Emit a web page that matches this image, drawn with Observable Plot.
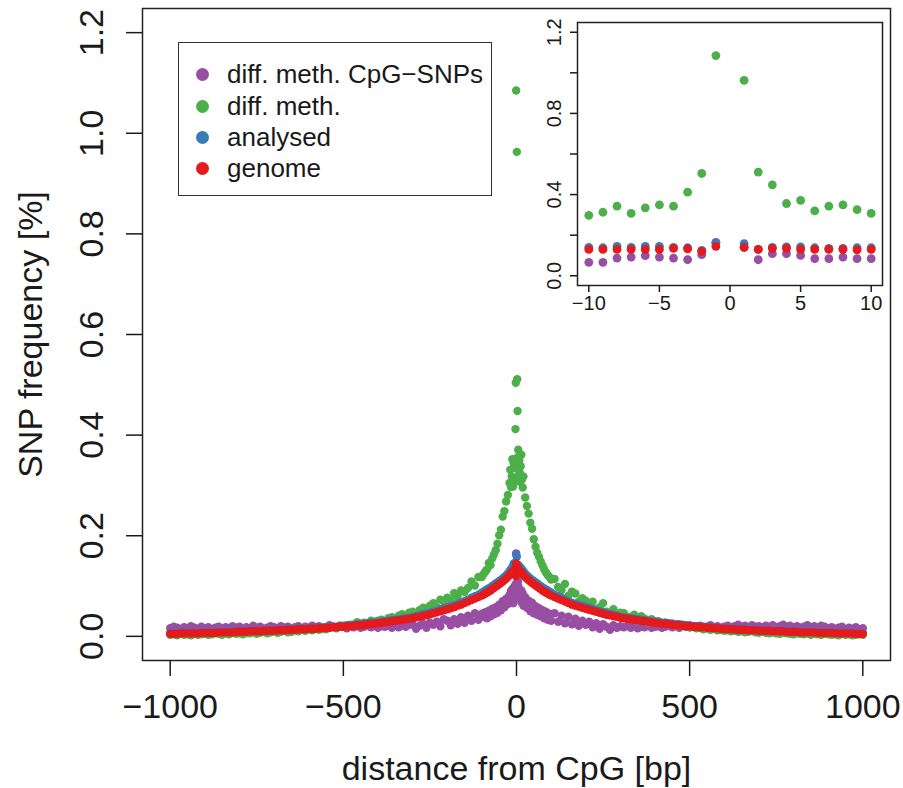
<!DOCTYPE html>
<html><head><meta charset="utf-8">
<script src="https://cdn.jsdelivr.net/npm/d3@7"></script>
<script src="https://cdn.jsdelivr.net/npm/@observablehq/plot@0.6"></script>
<style>
body{margin:0;background:#fff;}
#wrap{position:relative;width:903px;height:788px;font-family:"Liberation Sans",Arial,Helvetica,sans-serif;color:#1a1a1a;}
#wrap svg{position:absolute;}
#legend{position:absolute;left:178px;top:42px;width:314px;height:154px;border:1.5px solid #333;background:#fff;box-sizing:border-box;}
.item{position:absolute;left:0;height:30px;display:flex;align-items:center;font-size:26px;white-space:nowrap;}
.sw{width:13px;height:13px;border-radius:50%;margin-left:17px;margin-right:18px;flex:none;}
</style></head>
<body>
<div id="wrap"></div>
<script>
// distance from CpG (bp), used for both sides (left = negative)
const dist = [1,2,3,4,5,6,7,8,9,
 10,12,14,16,18,20,25,30,35,40,45,50,55,60,65,70,75,80,85,90,95,100,
 110,120,130,140,150,160,170,180,190,200,
 210,220,230,240,250,260,270,280,290,300,
 310,320,330,340,350,360,370,380,390,400,
 410,420,430,440,450,460,470,480,490,500,
 510,520,530,540,550,560,570,580,590,600,
 610,620,630,640,650,660,670,680,690,700,
 710,720,730,740,750,760,770,780,790,800,
 810,820,830,840,850,860,870,880,890,900,
 910,920,930,940,950,960,970,980,990,1000];

const seriesNames = ["diff. meth. CpG\u2212SNPs", "diff. meth.", "analysed", "genome"];
const seriesColors = ["#984EA3", "#4DAF4A", "#377EB8", "#E41A1C"];

const cpgSnpLeft = [0.165,0.104,0.079,0.087,0.092,0.099,0.092,0.087,0.066,
 0.066,0.094,0.077,0.090,0.068,0.083,0.064,0.075,0.058,0.070,0.052,0.063,0.047,0.058,0.044,0.055,0.040,0.051,0.036,0.048,0.039,0.045,
 0.033,0.046,0.031,0.041,0.027,0.038,0.025,0.034,0.022,0.031,
 0.034,0.020,0.029,0.023,0.027,0.017,0.025,0.021,0.015,0.024,
 0.023,0.019,0.022,0.018,0.021,0.017,0.022,0.019,0.020,0.017,
 0.021,0.018,0.022,0.019,0.017,0.021,0.018,0.020,0.016,0.019,
 0.021,0.017,0.019,0.022,0.018,0.016,0.020,0.018,0.021,0.017,
 0.019,0.016,0.020,0.018,0.015,0.019,0.017,0.020,0.016,0.018,
 0.020,0.017,0.015,0.019,0.017,0.021,0.016,0.018,0.015,0.019,
 0.017,0.020,0.016,0.018,0.015,0.019,0.017,0.014,0.018,0.016,
 0.019,0.015,0.017,0.020,0.016,0.018,0.014,0.017,0.019,0.016];
const cpgSnpRight = [0.140,0.079,0.109,0.109,0.100,0.084,0.084,0.092,0.084,
 0.084,0.072,0.091,0.066,0.085,0.061,0.078,0.057,0.071,0.050,0.067,0.046,0.060,0.043,0.056,0.040,0.052,0.036,0.049,0.033,0.045,0.031,
 0.046,0.029,0.041,0.026,0.039,0.024,0.035,0.021,0.031,0.023,
 0.029,0.018,0.026,0.015,0.024,0.019,0.013,0.022,0.017,0.020,
 0.018,0.021,0.017,0.020,0.016,0.019,0.018,0.021,0.017,0.019,
 0.020,0.017,0.019,0.022,0.018,0.020,0.017,0.021,0.019,0.018,
 0.020,0.018,0.021,0.017,0.019,0.022,0.018,0.020,0.017,0.019,
 0.021,0.018,0.020,0.023,0.019,0.021,0.018,0.022,0.019,0.020,
 0.018,0.021,0.019,0.022,0.018,0.020,0.023,0.019,0.021,0.018,
 0.020,0.017,0.019,0.022,0.018,0.020,0.017,0.021,0.019,0.016,
 0.018,0.015,0.017,0.019,0.014,0.017,0.015,0.018,0.014,0.016];

const diffMethLeft = [1.085,0.504,0.412,0.343,0.349,0.335,0.307,0.343,0.313,
 0.298,0.352,0.318,0.297,0.331,0.305,0.281,0.268,0.249,0.238,0.212,0.201,0.184,0.171,0.163,0.155,0.142,0.146,0.133,0.129,0.124,0.118,
 0.118,0.101,0.109,0.096,0.088,0.091,0.079,0.086,0.072,0.077,
 0.069,0.073,0.058,0.066,0.061,0.050,0.057,0.052,0.045,0.049,
 0.047,0.039,0.044,0.041,0.034,0.038,0.036,0.030,0.033,0.031,
 0.029,0.031,0.026,0.027,0.025,0.028,0.022,0.023,0.021,0.019,
 0.021,0.016,0.019,0.017,0.014,0.018,0.013,0.015,0.012,0.014,
 0.011,0.013,0.010,0.012,0.009,0.008,0.011,0.009,0.007,0.010,
 0.008,0.006,0.009,0.007,0.005,0.008,0.006,0.007,0.004,0.006,
 0.005,0.007,0.004,0.006,0.003,0.005,0.006,0.004,0.003,0.005,
 0.004,0.003,0.005,0.002,0.004,0.003,0.005,0.002,0.004,0.003];
const diffMethRight = [0.963,0.511,0.448,0.356,0.371,0.320,0.343,0.349,0.326,
 0.307,0.338,0.361,0.312,0.296,0.318,0.276,0.259,0.244,0.226,0.214,0.193,0.178,0.166,0.158,0.149,0.141,0.133,0.127,0.122,0.118,0.113,
 0.114,0.098,0.092,0.104,0.081,0.089,0.085,0.069,0.076,0.071,
 0.062,0.069,0.053,0.058,0.066,0.049,0.045,0.054,0.042,0.047,
 0.046,0.036,0.039,0.043,0.031,0.040,0.035,0.028,0.034,0.030,
 0.030,0.026,0.027,0.024,0.025,0.021,0.023,0.020,0.022,0.018,
 0.019,0.016,0.017,0.014,0.016,0.013,0.015,0.012,0.013,0.011,
 0.012,0.010,0.011,0.009,0.010,0.008,0.009,0.011,0.008,0.007,
 0.009,0.007,0.006,0.008,0.006,0.005,0.007,0.006,0.005,0.004,
 0.006,0.005,0.004,0.006,0.003,0.005,0.004,0.003,0.005,0.004,
 0.003,0.004,0.002,0.005,0.003,0.004,0.002,0.003,0.004,0.003];

const analysedLeft = [0.162,0.125,0.138,0.140,0.145,0.145,0.140,0.145,0.138,
 0.140,0.137,0.135,0.133,0.131,0.129,0.125,0.121,0.118,0.115,0.112,0.110,0.107,0.105,0.102,0.100,0.097,0.095,0.093,0.091,0.089,0.087,
 0.083,0.080,0.077,0.073,0.070,0.067,0.065,0.062,0.060,0.058,
 0.056,0.054,0.051,0.049,0.047,0.045,0.044,0.042,0.040,0.038,
 0.037,0.036,0.035,0.034,0.033,0.032,0.031,0.030,0.029,0.028,
 0.027,0.027,0.026,0.025,0.024,0.024,0.023,0.022,0.022,0.021,
 0.020,0.019,0.019,0.018,0.018,0.017,0.017,0.016,0.016,0.016,
 0.015,0.015,0.015,0.014,0.014,0.014,0.013,0.013,0.013,0.012,
 0.012,0.012,0.012,0.011,0.011,0.011,0.011,0.010,0.010,0.010,
 0.010,0.009,0.009,0.009,0.009,0.009,0.008,0.008,0.008,0.008,
 0.008,0.007,0.007,0.007,0.007,0.007,0.007,0.006,0.006,0.006];
const analysedRight = [0.158,0.130,0.140,0.142,0.142,0.138,0.135,0.135,0.138,
 0.138,0.136,0.134,0.132,0.131,0.129,0.125,0.121,0.118,0.115,0.112,0.110,0.107,0.105,0.102,0.100,0.097,0.095,0.093,0.091,0.089,0.087,
 0.083,0.080,0.077,0.073,0.070,0.067,0.065,0.063,0.061,0.059,
 0.057,0.055,0.052,0.050,0.048,0.046,0.045,0.043,0.041,0.039,
 0.038,0.037,0.036,0.035,0.034,0.033,0.032,0.031,0.030,0.029,
 0.028,0.027,0.027,0.026,0.025,0.024,0.024,0.023,0.022,0.022,
 0.020,0.020,0.019,0.019,0.018,0.018,0.017,0.017,0.016,0.016,
 0.015,0.015,0.015,0.014,0.014,0.014,0.013,0.013,0.013,0.012,
 0.012,0.012,0.012,0.011,0.011,0.011,0.011,0.010,0.010,0.010,
 0.010,0.009,0.009,0.009,0.009,0.009,0.008,0.008,0.008,0.008,
 0.008,0.007,0.007,0.007,0.007,0.007,0.007,0.006,0.006,0.006];

const genomeLeft = [0.145,0.120,0.133,0.135,0.130,0.130,0.130,0.130,0.130,
 0.130,0.129,0.127,0.125,0.124,0.122,0.118,0.115,0.112,0.109,0.106,0.104,0.101,0.099,0.096,0.094,0.091,0.089,0.087,0.085,0.083,0.081,
 0.078,0.075,0.072,0.069,0.066,0.063,0.061,0.058,0.056,0.054,
 0.052,0.050,0.048,0.046,0.044,0.042,0.041,0.039,0.038,0.036,
 0.035,0.034,0.033,0.032,0.031,0.030,0.029,0.028,0.027,0.026,
 0.025,0.025,0.024,0.023,0.022,0.022,0.021,0.020,0.020,0.019,
 0.019,0.018,0.018,0.017,0.017,0.016,0.016,0.015,0.015,0.015,
 0.014,0.014,0.014,0.013,0.013,0.013,0.012,0.012,0.012,0.011,
 0.011,0.011,0.011,0.010,0.010,0.010,0.010,0.009,0.009,0.009,
 0.009,0.008,0.008,0.008,0.008,0.008,0.007,0.007,0.007,0.007,
 0.007,0.006,0.006,0.006,0.006,0.006,0.006,0.005,0.005,0.005];
const genomeRight = [0.140,0.130,0.135,0.135,0.130,0.130,0.130,0.130,0.128,
 0.130,0.128,0.127,0.125,0.124,0.122,0.118,0.115,0.112,0.109,0.106,0.104,0.101,0.099,0.096,0.094,0.091,0.089,0.087,0.085,0.083,0.081,
 0.078,0.075,0.072,0.069,0.066,0.063,0.061,0.059,0.057,0.055,
 0.053,0.051,0.049,0.047,0.045,0.043,0.042,0.040,0.039,0.037,
 0.036,0.035,0.034,0.033,0.032,0.031,0.030,0.029,0.028,0.027,
 0.026,0.025,0.025,0.024,0.023,0.022,0.022,0.021,0.020,0.020,
 0.019,0.019,0.018,0.018,0.017,0.017,0.016,0.016,0.015,0.015,
 0.014,0.014,0.014,0.013,0.013,0.013,0.012,0.012,0.012,0.011,
 0.011,0.011,0.011,0.010,0.010,0.010,0.010,0.009,0.009,0.009,
 0.009,0.008,0.008,0.008,0.008,0.008,0.007,0.007,0.007,0.007,
 0.007,0.006,0.006,0.006,0.006,0.006,0.006,0.005,0.005,0.005];

const xTicks = [-1000, -500, 0, 500, 1000];
const yTicks = [0, 0.2, 0.4, 0.6, 0.8, 1.0, 1.2];
const insetXTicks = [-10, -5, 0, 5, 10];
const insetYTicks = [0, 0.2, 0.4, 0.6, 0.8, 1.0, 1.2];
const insetYLabels = ["0.0", "", "0.4", "", "0.8", "", "1.2"];
const xTitle = "distance from CpG [bp]";
const yTitle = "SNP frequency [%]";

// build table (drawing order: purple, green, blue, red)
const rows = [];
function add(name, left, right) {
  dist.forEach((d, i) => {
    if (left[i] != null) rows.push({series: name, x: -d, y: left[i]});
    if (right[i] != null) rows.push({series: name, x: d, y: right[i]});
  });
}
add(seriesNames[0], cpgSnpLeft, cpgSnpRight);
add(seriesNames[1], diffMethLeft, diffMethRight);
add(seriesNames[2], analysedLeft, analysedRight);
add(seriesNames[3], genomeLeft, genomeRight);

const font = '"Liberation Sans", Arial, Helvetica, sans-serif';
const colorScale = {domain: seriesNames, range: seriesColors};
const intFmt = d3.format("d");

const main = Plot.plot({
  width: 903, height: 788,
  marginLeft: 142, marginRight: 13, marginTop: 8, marginBottom: 128,
  style: {fontFamily: font, fontSize: "34px", color: "#1a1a1a", background: "transparent"},
  x: {domain: [-1080, 1080]},
  y: {domain: [-0.048, 1.248]},
  color: colorScale,
  marks: [
    Plot.dot(rows, {x: "x", y: "y", fill: "series", r: 4.2}),
    Plot.frame({stroke: "#222", strokeWidth: 1.5}),
    Plot.axisX({ticks: xTicks, tickSize: 16, tickPadding: 17, tickFormat: intFmt, fontSize: 34, strokeWidth: 1.5, label: null}),
    Plot.axisY({ticks: yTicks, tickSize: 16, tickPadding: 24, tickRotate: -90, textAnchor: "middle", lineAnchor: "bottom",
      tickFormat: d3.format(".1f"), fontSize: 34, strokeWidth: 1.5, label: null}),
    Plot.text([xTitle], {text: d => d, frameAnchor: "bottom", textAnchor: "middle", dy: 119, lineAnchor: "bottom", fontSize: 34}),
    Plot.text([yTitle], {text: d => d, frameAnchor: "left", textAnchor: "middle", dx: -101, rotate: -90, lineAnchor: "bottom", fontSize: 34})
  ]
});
main.style.left = "0px"; main.style.top = "0px";

const insetRows = rows.filter(r => Math.abs(r.x) <= 10);
const inset = Plot.plot({
  width: 363, height: 320,
  marginLeft: 47, marginRight: 11, marginTop: 22, marginBottom: 35,
  style: {fontFamily: font, fontSize: "20px", color: "#1a1a1a", background: "transparent"},
  x: {domain: [-10.8, 10.8]},
  y: {domain: [-0.048, 1.248]},
  color: colorScale,
  marks: [
    Plot.dot(insetRows, {x: "x", y: "y", fill: "series", r: 4.4}),
    Plot.frame({stroke: "#222", strokeWidth: 1.5}),
    Plot.axisX({ticks: insetXTicks, tickSize: 7, tickPadding: 3, tickFormat: intFmt, fontSize: 20, strokeWidth: 1.5, label: null}),
    Plot.axisY({ticks: insetYTicks, tickSize: 7, tickPadding: 10, tickRotate: -90, textAnchor: "middle", lineAnchor: "bottom",
      tickFormat: d => insetYLabels[insetYTicks.findIndex(t => Math.abs(t - d) < 1e-9)], fontSize: 20, strokeWidth: 1.5, label: null})
  ]
});
inset.style.left = "530px"; inset.style.top = "0px";

const wrap = document.getElementById("wrap");
wrap.appendChild(main);
wrap.appendChild(inset);

// legend
const legend = document.createElement("div");
legend.id = "legend";
const rowTops = [16, 48, 79, 110];
seriesNames.forEach((name, i) => {
  const item = document.createElement("div");
  item.className = "item";
  item.style.top = rowTops[i] + "px";
  const sw = document.createElement("span");
  sw.className = "sw";
  sw.style.background = seriesColors[i];
  const label = document.createElement("span");
  label.textContent = name;
  item.appendChild(sw);
  item.appendChild(label);
  legend.appendChild(item);
});
wrap.appendChild(legend);
</script>
</body></html>
